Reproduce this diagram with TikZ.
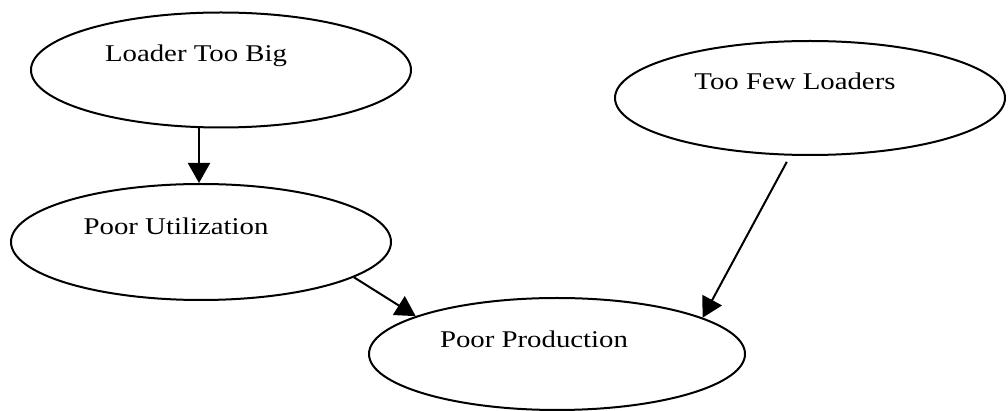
\documentclass[tikz,border=0pt]{standalone}
\usepackage{fontspec}
\setmainfont[FakeStretch=1.2]{Liberation Serif}
\usetikzlibrary{shapes.geometric,arrows.meta}

\begin{document}
\begin{tikzpicture}[x=0.5pt,y=-0.5pt]
  \tikzset{
    cause/.style={draw,line width=1pt,ellipse,inner sep=0pt},
    caption/.style={font=\fontsize{12pt}{14pt}\selectfont,anchor=base,inner sep=0pt},
    link/.style={line width=1pt,-{Triangle[length=10pt,width=11pt]}}
  }
  \useasboundingbox (0,0) rectangle (1008,411);

  \node[cause,minimum width=190pt,minimum height=57.5pt] (big) at (221,70) {};
  \node[cause,minimum width=190pt,minimum height=58pt] (util) at (201,242) {};
  \node[cause,minimum width=195pt,minimum height=57pt] (few) at (810,98) {};
  \node[cause,minimum width=188pt,minimum height=56pt] (prod) at (557,354) {};

  \node[caption] (big-txt) at (196,62) {Loader Too Big};
  \node[caption] (util-txt) at (176,235) {Poor Utilization};
  \node[caption] (few-txt) at (795,90) {Too Few Loaders};
  \node[caption] (prod-txt) at (534,348) {Poor Production};

  \draw[link] ([xshift=-11pt]big.south) -- ([xshift=-1pt]util.north);
  \draw[link] (util.-13.8) -- (prod.165.7);
  \draw[link,shorten <=3.5pt] (few.-109) -- (prod.14);
\end{tikzpicture}
\end{document}
